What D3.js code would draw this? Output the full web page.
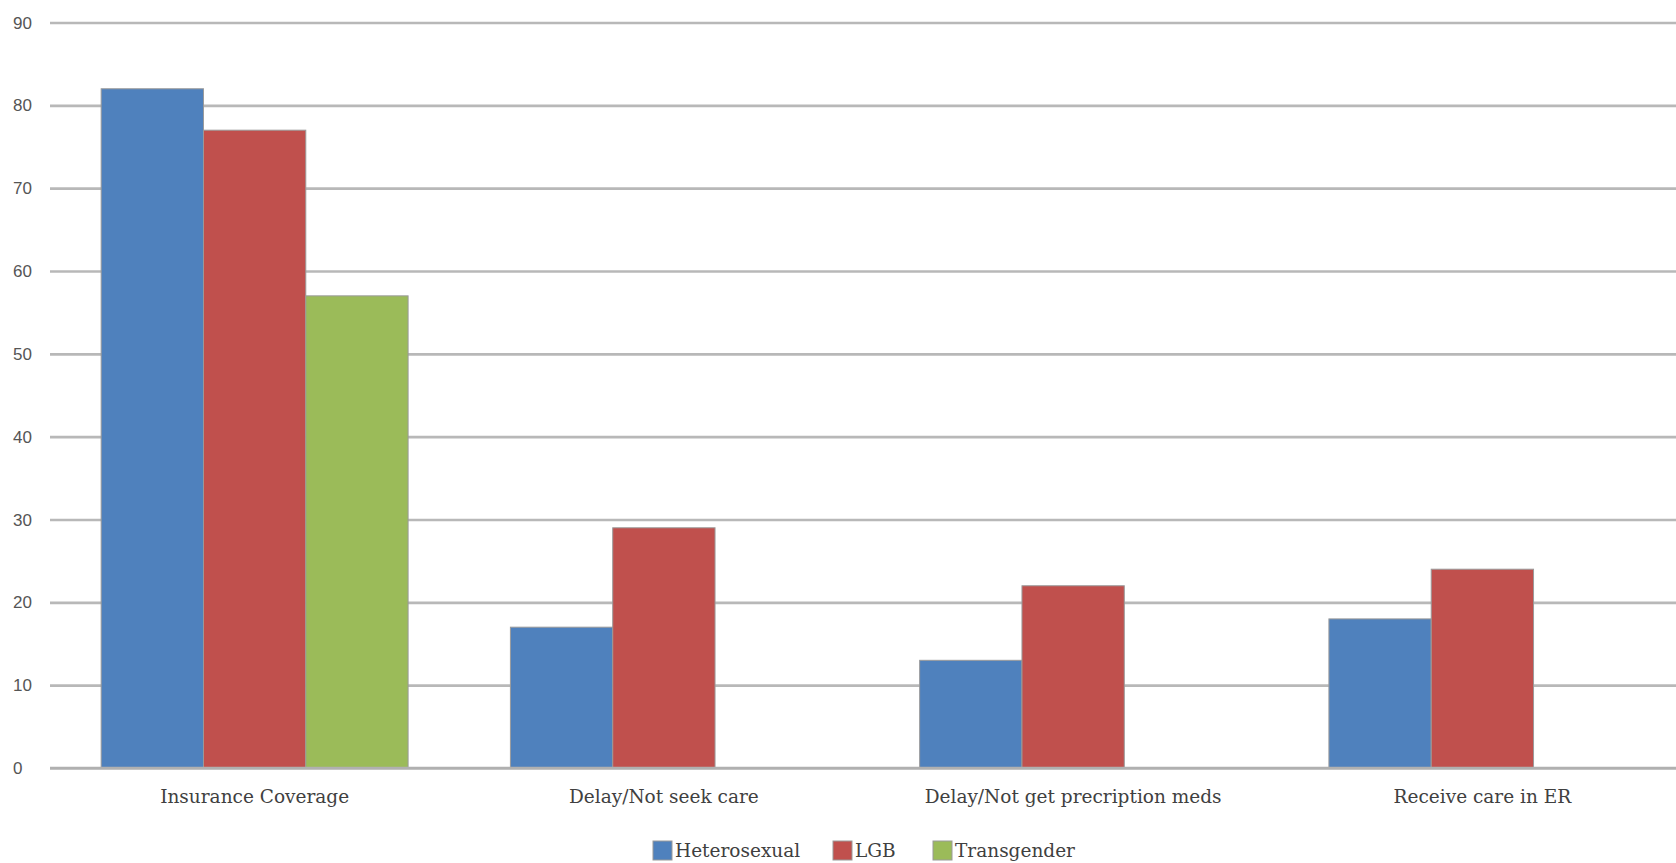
<!DOCTYPE html>
<html>
<head>
<meta charset="utf-8">
<script src="https://cdn.jsdelivr.net/npm/d3@7"></script>
<style>
  html, body { margin: 0; padding: 0; background: #ffffff; }
  svg { display: block; }
</style>
</head>
<body>
<svg id="chart" width="1676" height="863"></svg>
<script>
// Health care access by group (percent)
const categories = ["Insurance Coverage", "Delay/Not seek care", "Delay/Not get precription meds", "Receive care in ER"];
const seriesNames = ["Heterosexual", "LGB", "Transgender"];
const heterosexual = [82, 17, 13, 18];
const lgb = [77, 29, 22, 24];
const transgender = [57, null, null, null];
const yTicks = [0, 10, 20, 30, 40, 50, 60, 70, 80, 90];
const colors = ["#4F81BD", "#C0504D", "#9BBB59"];

const seriesValues = [heterosexual, lgb, transgender];

const svg = d3.select("#chart");
const W = 1676, H = 863;
const plot = { left: 50, right: 1687, top: 22.5, bottom: 768 };

const x0 = d3.scaleBand().domain(categories).range([plot.left, plot.right]).paddingInner(0).paddingOuter(0);
const x1 = d3.scaleBand().domain(seriesNames).range([0, x0.bandwidth()]).paddingInner(0).paddingOuter(0.5);
const y = d3.scaleLinear().domain([0, 90]).range([plot.bottom, plot.top]);

// horizontal gridlines
const grid = svg.append("g")
  .attr("transform", `translate(${plot.left},0)`)
  .call(d3.axisLeft(y).tickValues(yTicks).tickSize(-(W - plot.left)).tickFormat(""));
grid.select(".domain").remove();
grid.selectAll(".tick line").attr("stroke", "#b8b8b8").attr("stroke-width", 2.6);

// value labels on the left
svg.append("g").selectAll("text")
  .data(yTicks)
  .join("text")
  .attr("x", 13)
  .attr("y", d => y(d))
  .attr("dy", "0.36em")
  .attr("font-family", "'Liberation Sans', Arial, sans-serif")
  .attr("font-size", 17)
  .attr("fill", "#555555")
  .text(d => d);

// bars
const rows = [];
categories.forEach((c, i) => {
  seriesNames.forEach((s, j) => {
    const v = seriesValues[j][i];
    if (v != null) rows.push({ cat: c, series: s, value: v, color: colors[j] });
  });
});

svg.append("g").selectAll("rect")
  .data(rows)
  .join("rect")
  .attr("x", d => x0(d.cat) + x1(d.series))
  .attr("y", d => y(d.value))
  .attr("width", x1.bandwidth())
  .attr("height", d => y(0) - y(d.value))
  .attr("fill", d => d.color)
  .attr("stroke", "#9a9a9a")
  .attr("stroke-width", 1);

// baseline
svg.append("line")
  .attr("x1", plot.left).attr("x2", W)
  .attr("y1", y(0)).attr("y2", y(0))
  .attr("stroke", "#b0b0b0").attr("stroke-width", 2.6);

// category labels
svg.append("g").selectAll("text")
  .data(categories)
  .join("text")
  .attr("x", d => x0(d) + x0.bandwidth() / 2)
  .attr("y", 797)
  .attr("dy", "0.35em")
  .attr("text-anchor", "middle")
  .attr("font-family", "'DejaVu Serif', 'Liberation Serif', serif")
  .attr("font-size", 18.5)
  .attr("fill", "#404040")
  .text(d => d);

// legend
const legendItems = [
  { name: seriesNames[0], color: colors[0], x: 653 },
  { name: seriesNames[1], color: colors[1], x: 833 },
  { name: seriesNames[2], color: colors[2], x: 933 }
];
const lg = svg.append("g");
lg.selectAll("rect")
  .data(legendItems)
  .join("rect")
  .attr("x", d => d.x)
  .attr("y", 841)
  .attr("width", 19)
  .attr("height", 19)
  .attr("fill", d => d.color)
  .attr("stroke", "#9a9a9a")
  .attr("stroke-width", 1);
lg.selectAll("text")
  .data(legendItems)
  .join("text")
  .attr("x", d => d.x + 22)
  .attr("y", 851)
  .attr("dy", "0.35em")
  .attr("font-family", "'DejaVu Serif', 'Liberation Serif', serif")
  .attr("font-size", 18.5)
  .attr("fill", "#404040")
  .text(d => d.name);
</script>
</body>
</html>
